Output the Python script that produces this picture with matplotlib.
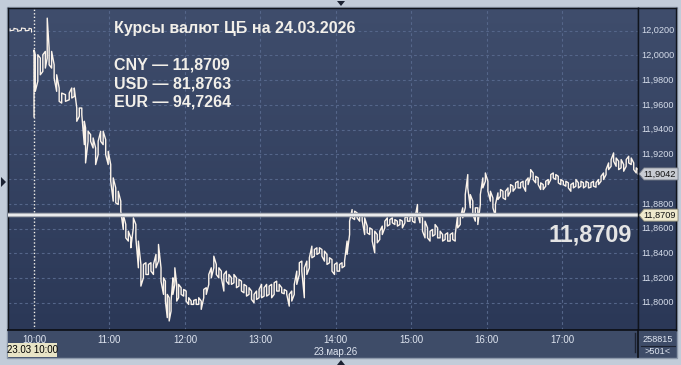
import matplotlib.pyplot as plt
import numpy as np
from matplotlib.colors import LinearSegmentedColormap
from matplotlib.patches import Polygon, Rectangle
from matplotlib.transforms import blended_transform_factory

# minutes after 10:00, with high / low of each short interval
minutes = [-19, -16, -13, -10, -7, -4, -2,
           0, 1, 3, 5, 7, 9, 10.5, 12, 14, 16, 18, 20, 22, 25, 28, 30, 32, 34, 36, 38, 40, 41,
           43, 45, 47, 49, 51, 53, 55, 57, 59, 61, 63, 65, 67, 69, 71, 73, 75, 77, 79, 81, 83,
           85, 87, 89, 91, 93, 95, 97, 99, 101, 103, 104.5, 106, 107.5, 109, 110.5, 112, 113.5,
           115] + list(range(117, 480, 2)) + [480.5]
highs = [12.0215, 12.0220, 12.0212, 12.0222, 12.0218, 12.0220, 12.0215,
         12.0044, 12.0006, 12.0006, 11.9979, 12.0006, 12.0033, 12.0302, 12.0060, 12.0033,
         11.9925, 11.9844, 11.9737, 11.9696, 11.9683, 11.9696, 11.9737, 11.9737, 11.9575,
         11.9575, 11.9575, 11.9468, 11.9414, 11.9387, 11.9360, 11.9333, 11.9252, 11.9306,
         11.9387, 11.9387, 11.9320, 11.9225, 11.9118, 11.9010, 11.8929, 11.8902, 11.8822,
         11.8714, 11.8633, 11.8579, 11.8525, 11.8687, 11.8633, 11.8499, 11.8310, 11.8310,
         11.8324, 11.8310, 11.8324, 11.8310, 11.8391, 11.8472, 11.8283, 11.8202, 11.8175,
         11.8068, 11.8041, 11.8014, 11.8202, 11.8283, 11.8149, 11.8149,
         # 117 .. 479 step 2
         11.8122, 11.8108, 11.8095, 11.8041, 11.8014, 11.8019, 11.8027, 11.8041, 11.8014,
         11.8108, 11.8122, 11.8229, 11.8283, 11.8377, 11.8310, 11.8283, 11.8256, 11.8229,
         11.8256, 11.8229, 11.8202, 11.8229, 11.8202, 11.8189, 11.8175, 11.8149, 11.8135,
         11.8122, 11.8095, 11.8068, 11.8095, 11.8108, 11.8149, 11.8122, 11.8149, 11.8135,
         11.8149, 11.8162, 11.8175, 11.8149, 11.8122, 11.8108, 11.8095, 11.8068, 11.8095,
         11.8149, 11.8256, 11.8324, 11.8337, 11.8283, 11.8337, 11.8364, 11.8458, 11.8431,
         11.8445, 11.8445, 11.8431, 11.8418, 11.8391, 11.8364, 11.8350, 11.8310, 11.8324,
         11.8310, 11.8324, 11.8337, 11.8499, 11.8660, 11.8754, 11.8741, 11.8727, 11.8714,
         11.8714, 11.8687, 11.8620, 11.8606, 11.8593, 11.8579, 11.8552, 11.8579, 11.8620,
         11.8660, 11.8687, 11.8673, 11.8687, 11.8673, 11.8660, 11.8673, 11.8660, 11.8687,
         11.8700, 11.8687, 11.8700, 11.8687, 11.8795, 11.8727, 11.8687, 11.8660, 11.8606,
         11.8579, 11.8593, 11.8633, 11.8606, 11.8579, 11.8552, 11.8552, 11.8566, 11.8552,
         11.8566, 11.8552, 11.8714, 11.8687, 11.8768, 11.8875, 11.9037, 11.8875, 11.8822,
         11.8768, 11.8768, 11.8875, 11.9010, 11.9050, 11.8983, 11.8902, 11.8848, 11.8795,
         11.8889, 11.8916, 11.8902, 11.8902, 11.8929, 11.8956, 11.8943, 11.8970, 11.8983,
         11.8970, 11.8983, 11.8983, 11.9010, 11.9077, 11.9050, 11.9023, 11.9010, 11.8970,
         11.8956, 11.8983, 11.8997, 11.9037, 11.9050, 11.9037, 11.9023, 11.8997, 11.8983,
         11.8983, 11.8970, 11.8956, 11.8970, 11.8997, 11.8970, 11.8983, 11.8970, 11.8983,
         11.8970, 11.8970, 11.8983, 11.8970, 11.8997, 11.9023, 11.9050, 11.9077, 11.9131,
         11.9158, 11.9212, 11.9171, 11.9145, 11.9158, 11.9118, 11.9158, 11.9185, 11.9171,
         11.9131, 11.9091,
         11.9077]
lows = [12.0200, 12.0205, 12.0195, 12.0205, 12.0200, 12.0203, 12.0190,
        11.9503, 11.9710, 11.9791, 11.9844, 11.9871, 11.9898, 11.9979, 11.9925, 11.9898,
        11.9817, 11.9710, 11.9629, 11.9615, 11.9629, 11.9642, 11.9656, 11.9669, 11.9468,
        11.9508, 11.9521, 11.9279, 11.9131, 11.9306, 11.9306, 11.9252, 11.9118, 11.9198,
        11.9306, 11.9279, 11.9198, 11.9118, 11.8983, 11.8822, 11.8808, 11.8795, 11.8741,
        11.8593, 11.8525, 11.8499, 11.8445, 11.8606, 11.8525, 11.8283, 11.8135, 11.8202,
        11.8229, 11.8229, 11.8256, 11.8229, 11.8283, 11.8337, 11.8175, 11.8068, 11.8014,
        11.7880, 11.7853, 11.7933, 11.8068, 11.8149, 11.8014, 11.8041,
        # 117 .. 479 step 2
        11.8068, 11.8054, 11.8014, 11.7987, 11.7987, 11.7987, 11.7987, 11.7987, 11.7947,
        11.8041, 11.8068, 11.8149, 11.8202, 11.8283, 11.8229, 11.8202, 11.8202, 11.8095,
        11.8175, 11.8149, 11.8149, 11.8162, 11.8122, 11.8135, 11.8095, 11.8081, 11.8054,
        11.8068, 11.8027, 11.8000, 11.8027, 11.8041, 11.8041, 11.8054, 11.8054, 11.8068,
        11.8041, 11.8068, 11.8095, 11.8095, 11.8081, 11.8073, 11.8068, 11.7973, 11.8014,
        11.8068, 11.8149, 11.8229, 11.8256, 11.8041, 11.8229, 11.8283, 11.8364, 11.8377,
        11.8391, 11.8404, 11.8377, 11.8337, 11.8310, 11.8324, 11.8256, 11.8229, 11.8256,
        11.8256, 11.8283, 11.8297, 11.8391, 11.8552, 11.8687, 11.8673, 11.8687, 11.8660,
        11.8665, 11.8552, 11.8566, 11.8552, 11.8499, 11.8404, 11.8485, 11.8512, 11.8552,
        11.8606, 11.8620, 11.8633, 11.8647, 11.8633, 11.8620, 11.8633, 11.8606, 11.8647,
        11.8660, 11.8660, 11.8660, 11.8647, 11.8727, 11.8647, 11.8579, 11.8525, 11.8525,
        11.8499, 11.8539, 11.8552, 11.8525, 11.8525, 11.8499, 11.8512, 11.8499, 11.8499,
        11.8512, 11.8499, 11.8606, 11.8633, 11.8687, 11.8768, 11.8929, 11.8768, 11.8714,
        11.8660, 11.8633, 11.8795, 11.8929, 11.8983, 11.8902, 11.8822, 11.8768, 11.8700,
        11.8835, 11.8862, 11.8848, 11.8835, 11.8862, 11.8902, 11.8902, 11.8929, 11.8929,
        11.8929, 11.8943, 11.8902, 11.8956, 11.9023, 11.8997, 11.8970, 11.8956, 11.8916,
        11.8916, 11.8943, 11.8956, 11.8997, 11.9010, 11.8997, 11.8970, 11.8956, 11.8956,
        11.8943, 11.8929, 11.8902, 11.8929, 11.8943, 11.8929, 11.8943, 11.8929, 11.8943,
        11.8929, 11.8935, 11.8943, 11.8935, 11.8956, 11.8983, 11.8997, 11.9037, 11.9077,
        11.9104, 11.9145, 11.9104, 11.9077, 11.9091, 11.9064, 11.9104, 11.9131, 11.9118,
        11.9077, 11.9050,
        11.9042]

hours = [0, 60, 120, 180, 240, 300, 360, 420]
hour_labels = ["10:00", "11:00", "12:00", "13:00", "14:00", "15:00", "16:00", "17:00"]
price_ticks = [11.80, 11.82, 11.84, 11.86, 11.88, 11.90, 11.92, 11.94, 11.96, 11.98, 12.00, 12.02]
cb_rate = 11.8709
last_price = 11.9042
title = "Курсы валют ЦБ на 24.03.2026"
rates = ["CNY — 11,8709", "USD — 81,8763", "EUR — 94,7264"]

W, H = 681, 365
FONT = ["Liberation Sans", "DejaVu Sans"]


def fx(x):
    return x / W


def fy(y):
    return 1 - y / H


def comma(v):
    return f"{v:.4f}".replace(".", ",")


fig = plt.figure(figsize=(W / 100, H / 100), dpi=100)
fig.patch.set_facecolor("#c2ccd9")

# outer panel frame (behind the axes)
fig.add_artist(Rectangle((fx(7), fy(358)), 670 / W, 351 / H, transform=fig.transFigure,
                         fc="#3e4c68", ec="#8d99ab", lw=1, zorder=-5))

ax = fig.add_axes([fx(8), fy(330), 630 / W, 322 / H])
rax = fig.add_axes([fx(638), fy(330), 38 / W, 322 / H])
bax = fig.add_axes([fx(8), fy(357), 668 / W, 27 / H])

ylo, yhi = 11.778, 12.0384
grad = np.linspace(0, 1, 256).reshape(-1, 1)
bg = LinearSegmentedColormap.from_list("bg", ["#3f4d6c", "#2b3857"])
for a in (ax, rax):
    a.imshow(grad, extent=[0, 1, 0, 1], transform=a.transAxes, aspect="auto", cmap=bg, zorder=0)
    a.set_ylim(ylo, yhi)
    a.set_xticks([])
    a.set_yticks([])
    for s in a.spines.values():
        s.set_color("#10141c")
        s.set_linewidth(1)

bax.set_facecolor("#3e4c68")
bax.set_xticks([])
bax.set_yticks([])
for s in bax.spines.values():
    s.set_visible(False)

ax.set_xlim(-20.7, 480.4)

# grid
for p in price_ticks:
    ax.axhline(p, color="#55668a", lw=0.8, dashes=(2.5, 2.5), zorder=1)
for h in hours[1:]:
    ax.axvline(h, color="#55668a", lw=0.8, dashes=(2.5, 2.5), zorder=1)
ax.axvline(0, color="#f4f1ea", lw=1, linestyle=(0, (1, 1.5)), zorder=2)

# price path: vertical range for each interval, joined in time order
xs, ys = [], []
for i, (t, hi, lo) in enumerate(zip(minutes, highs, lows)):
    xs += [t, t]
    ys += [hi, lo] if i % 2 == 0 else [lo, hi]
ax.plot(xs[:14], ys[:14], color="#fbf3ea", lw=0.8, zorder=4)
ax.plot(xs[14:], ys[14:], color="#fbf3ea", lw=1.0, zorder=4)

# central bank rate line
ax.axhline(cb_rate, color="#a9adb5", lw=3.2, zorder=5)
ax.axhline(cb_rate, color="#ffffff", lw=1.1, zorder=6)
fig.text(fx(632), fy(241.5), comma(cb_rate), ha="right", va="baseline", fontsize=16.8,
         fontweight="bold", color="#e4e4e4", family=FONT, zorder=7)

# headline texts
fig.text(fx(114), fy(32.5), title, fontsize=11.5, fontweight="bold", color="#f2efe9",
         family=FONT, va="baseline")
for i, r in enumerate(rates):
    fig.text(fx(114), fy(70 + 18.3 * i), r, fontsize=11.5, fontweight="bold", color="#f2efe9",
             family=FONT, va="baseline")

# right axis labels
rtr = blended_transform_factory(fig.transFigure, ax.transData)
for p in price_ticks:
    if abs(p - 11.90) < 1e-9:
        continue
    fig.text(fx(641), p, comma(p), transform=rtr, fontsize=6.6, color="#d5dcea",
             family=FONT, va="center", ha="left")

# price tags on right axis
fig.canvas.draw()
for val, fc, ec in [(last_price, "#c9ccd3", "#7d838e"), (cb_rate, "#efe9cd", "#8d8a78")]:
    yb = ax.transData.transform((0, val))[1]
    hp = 6.0
    pts = [(639, 0), (644, hp), (678, hp), (678, -hp), (644, -hp)]
    poly = [(fx(px), (yb + dy) / H) for px, dy in pts]
    fig.add_artist(Polygon(poly, closed=True, transform=fig.transFigure, fc=fc, ec=ec, lw=0.6,
                           zorder=8))
    fig.text(fx(643.5), val, comma(val), transform=rtr, fontsize=6.6, color="#111111",
             family=FONT, va="center", ha="left", zorder=9)

# bottom time axis
btr = blended_transform_factory(ax.transData, fig.transFigure)
for h, lab in zip(hours, hour_labels):
    fig.text(h, fy(340), lab, transform=btr, fontsize=7, color="#dfe5f0", family=FONT,
             ha="center", va="center")
fig.text(240, fy(352), "23.мар.26", transform=btr, fontsize=7, color="#dfe5f0", family=FONT,
         ha="center", va="center")
fig.add_artist(Rectangle((fx(8), fy(357)), 49 / W, 14 / H, transform=fig.transFigure,
                         fc="#e8e4c6", ec="none"))
fig.text(fx(32.5), fy(350), "23.03 10:00", fontsize=7, color="#000000", family=FONT,
         ha="center", va="center")

# right bottom corner info
fig.add_artist(plt.Line2D([fx(8), fx(676)], [fy(330), fy(330)], transform=fig.transFigure,
                          color="#0c0f16", lw=1.2))
fig.add_artist(plt.Line2D([fx(635), fx(635)], [fy(352), fy(333)], transform=fig.transFigure,
                          color="#1c2230", lw=1))
fig.add_artist(plt.Line2D([fx(638), fx(638)], [fy(357), fy(330)], transform=fig.transFigure,
                          color="#0c0f16", lw=1.2))
fig.add_artist(plt.Line2D([fx(641), fx(675)], [fy(345.5), fy(345.5)], transform=fig.transFigure,
                          color="#1c2230", lw=0.8))
fig.text(fx(657.5), fy(339), "258815", fontsize=6.6, color="#dfe5f0", family=FONT,
         ha="center", va="center")
fig.text(fx(657.5), fy(352), ">501<", fontsize=6.6, color="#dfe5f0", family=FONT,
         ha="center", va="center")

# small scroll markers
for tri in ([(337, 1), (345, 1), (341, 6)], [(337, 365), (345, 365), (341, 360)],
            [(1, 177), (1, 187), (6, 182)]):
    fig.add_artist(Polygon([(fx(a), fy(b)) for a, b in tri], closed=True,
                           transform=fig.transFigure, fc="#1b2232", ec="none"))

fig.savefig("out.png", dpi=100, facecolor=fig.get_facecolor())
